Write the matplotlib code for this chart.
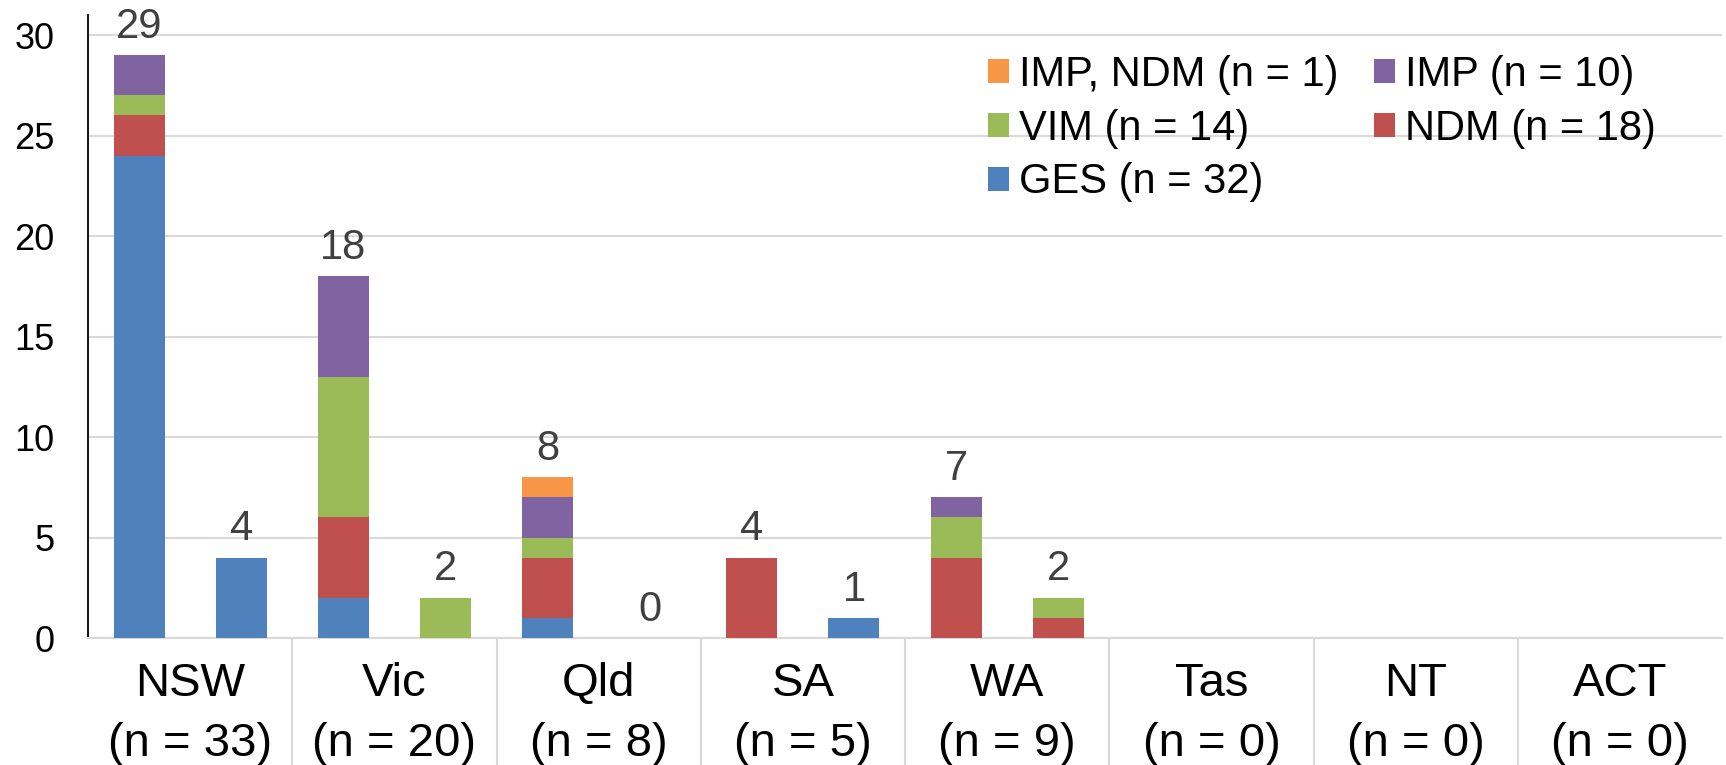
import matplotlib
matplotlib.use("Agg")
import matplotlib.pyplot as plt
import numpy as np

plt.rcParams['font.family'] = ['Liberation Sans', 'DejaVu Sans']

states = ["NSW", "Vic", "Qld", "SA", "WA", "Tas", "NT", "ACT"]
state_n = [33, 20, 8, 5, 9, 0, 0, 0]

# two bars per state
GES     = [24, 4, 2, 0, 1, 0, 0, 1, 0, 0, 0, 0, 0, 0, 0, 0]
NDM     = [2, 0, 4, 0, 3, 0, 4, 0, 4, 1, 0, 0, 0, 0, 0, 0]
VIM     = [1, 0, 7, 2, 1, 0, 0, 0, 2, 1, 0, 0, 0, 0, 0, 0]
IMP     = [2, 0, 5, 0, 2, 0, 0, 0, 1, 0, 0, 0, 0, 0, 0, 0]
IMP_NDM = [0, 0, 0, 0, 1, 0, 0, 0, 0, 0, 0, 0, 0, 0, 0, 0]
show_total = [True] * 10 + [False] * 6

series = [
    ("GES (n = 32)", GES, "#4F81BD"),
    ("NDM (n = 18)", NDM, "#C0504D"),
    ("VIM (n = 14)", VIM, "#9BBB59"),
    ("IMP (n = 10)", IMP, "#8064A2"),
    ("IMP, NDM (n = 1)", IMP_NDM, "#F79646"),
]

fig = plt.figure(figsize=(17.26, 7.65), dpi=100)
ax = fig.add_axes([88/1726, 1-638/765, (1722-88)/1726, (638-15)/765])

x = np.arange(16)
bottom = np.zeros(16)
handles = {}
for name, vals, col in series:
    v = np.array(vals, dtype=float)
    b = ax.bar(x, v, width=0.5, bottom=bottom, color=col, linewidth=0, zorder=3)
    handles[name] = b
    bottom += v

for i in range(16):
    if show_total[i]:
        ax.annotate(f"{int(bottom[i])}", (x[i], bottom[i]), xytext=(0, 6),
                    textcoords="offset points", ha="center", va="bottom",
                    fontsize=30, color="#404040")

ax.set_xlim(-0.5, 15.5)
ax.set_ylim(0, 31)
ax.set_yticks(np.arange(0, 31, 5))
ax.yaxis.grid(True, color="#D9D9D9", linewidth=1.5, zorder=0)
ax.set_axisbelow(True)
ax.tick_params(axis="y", length=0, pad=24, labelsize=26)

centers = np.arange(8) * 2 + 0.5
ax.set_xticks(centers)
ax.set_xticklabels([f"{s}\n(n = {n})" for s, n in zip(states, state_n)],
                   fontsize=34, linespacing=1.48)
ax.tick_params(axis="x", which="major", length=0, pad=17)
ax.set_xticks(np.arange(1.5, 15, 2), minor=True)
ax.tick_params(axis="x", which="minor", length=100, color="#D9D9D9", width=1.5)

for s in ["top", "right"]:
    ax.spines[s].set_visible(False)
ax.spines["left"].set_color("black")
ax.spines["left"].set_linewidth(1.3)
ax.spines["bottom"].set_color("#D9D9D9")
ax.spines["bottom"].set_linewidth(1.5)

order = ["IMP, NDM (n = 1)", "VIM (n = 14)", "GES (n = 32)", "IMP (n = 10)", "NDM (n = 18)"]
leg = fig.legend([handles[k] for k in order], order, ncol=2, loc="upper left",
                 bbox_to_anchor=(988/1726, 1-55/765), bbox_transform=fig.transFigure,
                 frameon=False, fontsize=30, handlelength=0.5, handleheight=0.5,
                 handletextpad=0.25, columnspacing=0.84, labelspacing=0.33,
                 borderpad=0, borderaxespad=0)

fig.savefig("out.png", dpi=100)
